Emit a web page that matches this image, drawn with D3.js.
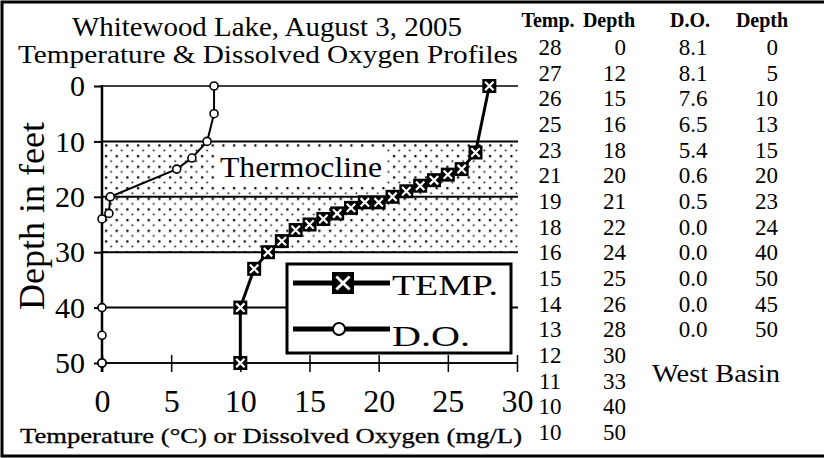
<!DOCTYPE html>
<html>
<head>
<meta charset="utf-8">
<script src="https://cdn.jsdelivr.net/npm/d3@7"></script>
<style>
  body { margin: 0; background: #fff; }
  svg { display: block; }
  svg text { font-family: "Liberation Serif", "Times New Roman", Times, serif !important; fill: #000; }
</style>
</head>
<body>
<script>
// plotted temperature profile (deg C vs depth in feet)
var tempValues = [28, 27, 26, 25, 24, 23, 22, 21, 20, 19, 18, 17, 16, 15, 14, 13, 12, 11, 10, 10];
var tempDepths = [0, 12, 15, 16, 17, 18, 19, 20, 21, 21, 22, 23, 24, 25, 26, 28, 30, 33, 40, 50];
// dissolved oxygen profile (mg/L vs depth in feet)
var doValues = [8.1, 8.1, 7.6, 6.5, 5.4, 0.6, 0.5, 0.0, 0.0, 0.0, 0.0, 0.0];
var doDepths = [0, 5, 10, 13, 15, 20, 23, 24, 40, 50, 45, 50];
// the table on the right
var tableHeaders = ["Temp.", "Depth", "D.O.", "Depth"];
var tableTemp = ["28", "27", "26", "25", "23", "21", "19", "18", "16", "15", "14", "13", "12", "11", "10", "10"];
var tableTempDepth = ["0", "12", "15", "16", "18", "20", "21", "22", "24", "25", "26", "28", "30", "33", "40", "50"];
var tableDO = ["8.1", "8.1", "7.6", "6.5", "5.4", "0.6", "0.5", "0.0", "0.0", "0.0", "0.0", "0.0"];
var tableDODepth = ["0", "5", "10", "13", "15", "20", "23", "24", "40", "50", "45", "50"];
var xTicks = [0, 5, 10, 15, 20, 25, 30];
var yTicks = [0, 10, 20, 30, 40, 50];
var thermocline = [10, 30];

var width = 825, height = 458;

var svg = d3.select("body").append("svg")
    .attr("width", width)
    .attr("height", height);

var x = d3.scaleLinear().domain([0, 30]).range([102, 517]);
var y = d3.scaleLinear().domain([0, 50]).range([86, 363]);

// dot pattern for the thermocline band
var pat = svg.append("defs").append("pattern")
    .attr("id", "dots")
    .attr("patternUnits", "userSpaceOnUse")
    .attr("x", 102).attr("y", y(10))
    .attr("width", 32 / 3).attr("height", 32 / 3);
pat.append("rect").attr("x", 3).attr("y", 3).attr("width", 2.2).attr("height", 2.2).attr("fill", "#000");
pat.append("rect").attr("x", 3 + 16 / 3).attr("y", 3 + 16 / 3).attr("width", 1.6).attr("height", 1.6).attr("fill", "#000");

// frame
svg.append("path")
    .attr("d", "M824,2H2V456H824")
    .attr("fill", "none").attr("stroke", "#000").attr("stroke-width", 3);

// titles
svg.append("text")
    .attr("x", 267).attr("y", 36)
    .attr("text-anchor", "middle")
    .attr("font-size", 28)
    .attr("textLength", 390).attr("lengthAdjust", "spacingAndGlyphs")
    .text("Whitewood Lake, August 3, 2005");
svg.append("text")
    .attr("x", 268).attr("y", 63)
    .attr("text-anchor", "middle")
    .attr("font-size", 26)
    .attr("textLength", 500).attr("lengthAdjust", "spacingAndGlyphs")
    .text("Temperature & Dissolved Oxygen Profiles");

// thermocline band
svg.append("rect")
    .attr("x", x(0)).attr("y", y(thermocline[0]))
    .attr("width", 520 - x(0)).attr("height", y(thermocline[1]) - y(thermocline[0]))
    .attr("fill", "url(#dots)");
svg.append("rect")
    .attr("x", 215).attr("y", 149).attr("width", 172).attr("height", 36)
    .attr("fill", "#fff");
svg.append("text")
    .attr("x", 220).attr("y", 177)
    .attr("font-size", 30)
    .attr("textLength", 162).attr("lengthAdjust", "spacingAndGlyphs")
    .text("Thermocline");

// horizontal gridlines
svg.append("g").selectAll("line")
    .data(yTicks)
    .enter().append("line")
    .attr("x1", x(0)).attr("x2", 518)
    .attr("y1", function(d) { return y(d); })
    .attr("y2", function(d) { return y(d); })
    .attr("stroke", "#000")
    .attr("stroke-width", function(d) { return (d >= 10 && d <= 40) ? 2 : 1.5; });

// y axis
var yAxis = svg.append("g")
    .attr("transform", "translate(" + x(0) + ",0)")
    .call(d3.axisLeft(y).tickValues(yTicks).tickSize(8).tickPadding(9));
yAxis.select(".domain").attr("stroke-width", 2.5).attr("d", "M0," + (y(0) - 1) + "V" + (y(50) + 9));
yAxis.selectAll(".tick line").attr("stroke-width", 2);
yAxis.selectAll(".tick text")
    .attr("font-size", 30)
    .attr("fill", "#000");

// x axis with crossing ticks
var xAxis = svg.append("g")
    .attr("transform", "translate(0," + y(50) + ")")
    .call(d3.axisBottom(x).tickValues(xTicks).tickSize(9).tickPadding(17));
xAxis.select(".domain").attr("stroke-width", 1.5).attr("d", "M" + x(0) + ",0H" + x(30));
xAxis.selectAll(".tick line").attr("y1", -8).attr("stroke-width", 1.5);
xAxis.selectAll(".tick text")
    .attr("font-size", 32)
    .attr("fill", "#000");

// axis titles
svg.append("text")
    .attr("transform", "translate(44,216) rotate(-90)")
    .attr("text-anchor", "middle")
    .attr("font-size", 36)
    .text("Depth in feet");
svg.append("text")
    .attr("x", 20).attr("y", 443)
    .attr("font-size", 21)
    .attr("stroke", "#000").attr("stroke-width", 0.3)
    .attr("textLength", 502).attr("lengthAdjust", "spacingAndGlyphs")
    .text("Temperature (°C) or Dissolved Oxygen (mg/L)");

// dissolved oxygen line + markers
var doPts = doValues.map(function(v, i) { return [v, doDepths[i]]; });
var line = d3.line()
    .x(function(d) { return x(d[0]); })
    .y(function(d) { return y(d[1]); });

svg.append("path")
    .datum(doPts)
    .attr("d", line)
    .attr("fill", "none").attr("stroke", "#000").attr("stroke-width", 2);
svg.append("g").selectAll("circle")
    .data(doPts)
    .enter().append("circle")
    .attr("cx", function(d) { return x(d[0]); })
    .attr("cy", function(d) { return y(d[1]); })
    .attr("r", 4)
    .attr("fill", "#fff").attr("stroke", "#000").attr("stroke-width", 1.6);

// temperature line + markers
var tempPts = tempValues.map(function(v, i) { return [v, tempDepths[i]]; });
svg.append("path")
    .datum(tempPts)
    .attr("d", line)
    .attr("fill", "none").attr("stroke", "#000").attr("stroke-width", 3);

function boxX(g, s) {
    g.append("rect")
        .attr("x", -s / 2).attr("y", -s / 2).attr("width", s).attr("height", s)
        .attr("fill", "#000");
    g.append("path")
        .attr("d", "M" + (-s * 0.3) + "," + (-s * 0.3) + "L" + (s * 0.3) + "," + (s * 0.3) +
                   "M" + (-s * 0.3) + "," + (s * 0.3) + "L" + (s * 0.3) + "," + (-s * 0.3))
        .attr("stroke", "#fff").attr("stroke-width", s > 15 ? 2.8 : 2.2);
}

svg.append("g").selectAll("g")
    .data(tempPts)
    .enter().append("g")
    .attr("transform", function(d) { return "translate(" + x(d[0]) + "," + y(d[1]) + ")"; })
    .each(function() { boxX(d3.select(this), 14); });

// legend
var legend = svg.append("g");
legend.append("rect")
    .attr("x", 287).attr("y", 264).attr("width", 224).attr("height", 89)
    .attr("fill", "#fff").attr("stroke", "#000").attr("stroke-width", 3);
legend.append("line")
    .attr("x1", 293).attr("x2", 390).attr("y1", 283).attr("y2", 283)
    .attr("stroke", "#000").attr("stroke-width", 5);
boxX(legend.append("g").attr("transform", "translate(343,283)"), 22);
legend.append("text")
    .attr("x", 392).attr("y", 295)
    .attr("font-size", 29)
    .attr("textLength", 106).attr("lengthAdjust", "spacingAndGlyphs")
    .text("TEMP.");
legend.append("line")
    .attr("x1", 293).attr("x2", 390).attr("y1", 329).attr("y2", 329)
    .attr("stroke", "#000").attr("stroke-width", 5);
legend.append("circle")
    .attr("cx", 339).attr("cy", 329).attr("r", 6)
    .attr("fill", "#fff").attr("stroke", "#000").attr("stroke-width", 2);
legend.append("text")
    .attr("x", 392).attr("y", 346)
    .attr("font-size", 29)
    .attr("textLength", 78).attr("lengthAdjust", "spacingAndGlyphs")
    .text("D.O.");

// data table
var colX = [550, 626, 693, 778];
var colAnchor = ["middle", "end", "middle", "end"];
var rowY = function(i) { return 47 + i * 25.67; };
var table = svg.append("g");

table.selectAll(".hdr")
    .data(tableHeaders)
    .enter().append("text")
    .attr("class", "hdr")
    .attr("x", function(d, i) { return [548, 609, 690, 762][i]; })
    .attr("y", 27)
    .attr("text-anchor", "middle")
    .attr("font-size", 20)
    .attr("font-weight", "bold")
    .text(function(d) { return d; });

var cols = [tableTemp, tableTempDepth, tableDO, tableDODepth];
cols.forEach(function(col, c) {
    table.selectAll(".c" + c)
        .data(col)
        .enter().append("text")
        .attr("class", "c" + c)
        .attr("x", colX[c])
        .attr("y", function(d, i) { return rowY(i); })
        .attr("dy", "0.35em")
        .attr("text-anchor", colAnchor[c])
        .attr("font-size", 23)
        .text(function(d) { return d; });
});

svg.append("text")
    .attr("x", 716).attr("y", 382)
    .attr("text-anchor", "middle")
    .attr("font-size", 26)
    .attr("textLength", 128).attr("lengthAdjust", "spacingAndGlyphs")
    .text("West Basin");
</script>
</body>
</html>
